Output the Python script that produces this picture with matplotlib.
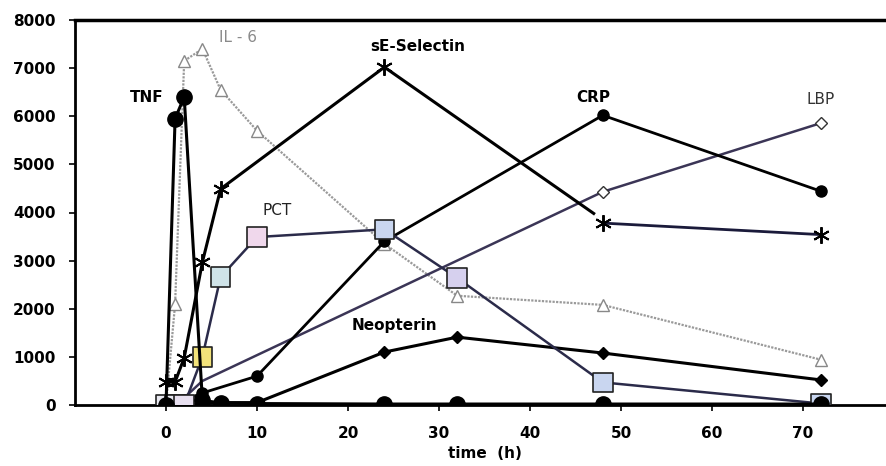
#!/usr/bin/env python3
import matplotlib.pyplot as plt

plt.rcParams['font.family'] = ['DejaVu Sans']

# time points (h) and concentrations
tnf_t = [0, 1, 2, 4, 6, 10, 24, 32, 48, 72]
tnf_v = [0, 5950, 6400, 100, 40, 30, 20, 20, 20, 20]

il6_t = [0, 1, 2, 4, 6, 10, 24, 32, 48, 72]
il6_v = [0, 2100, 7150, 7400, 6550, 5700, 3350, 2270, 2080, 940]

sel_t = [0, 1, 2, 4, 6, 24, 48, 72]
sel_v = [480, 480, 980, 2970, 4490, 7020, 3780, 3540]

crp_t = [0, 1, 2, 4, 10, 24, 48, 72]
crp_v = [0, 50, 100, 250, 600, 3400, 6020, 4440]

lbp_t = [0, 1, 2, 4, 48, 72]
lbp_v = [0, 50, 150, 500, 4430, 5860]

pct_t = [0, 1, 2, 4, 6, 10, 24, 32, 48, 72]
pct_v = [0, 0, 0, 1000, 2660, 3490, 3650, 2640, 470, 30]
pct_fill = ['#e8e8f0', '#e8e8f0', '#e8e0f0', '#f2e27a', '#cfe3e8', '#f0d8ec',
            '#c9d6f0', '#d6d0ee', '#c9d6f0', '#c9d6f0']

neo_t = [0, 1, 2, 6, 10, 24, 32, 48, 72]
neo_v = [0, 0, 0, 50, 50, 1100, 1410, 1080, 520]

fig = plt.figure(figsize=(8.87, 4.66), dpi=100)
ax = fig.add_axes([75 / 887, 61 / 466, 819 / 887, 385 / 466])

ax.plot(il6_t, il6_v, color='#9a9a9a', lw=1.6, ls=(0, (1, 0.6)),
        marker='^', ms=8, mfc='white', mec='#888888', mew=1, zorder=2)
ax.plot(lbp_t, lbp_v, color='#3b3556', lw=1.8,
        marker='D', ms=6, mfc='white', mec='#333333', mew=1, zorder=2,
        markevery=[4, 5])
ax.plot(crp_t, crp_v, color='black', lw=2, marker='o', ms=8, zorder=3)
ax.plot(neo_t, neo_v, color='black', lw=2.2, marker='D', ms=6, zorder=3)
ax.plot(sel_t[:6], sel_v[:6], color='black', lw=2.2, zorder=3)
ax.plot(sel_t[6:], sel_v[6:], color='#1a1a3a', lw=2, zorder=3)
ax.plot([sel_t[5], 47], [sel_v[5], 3980], color='black', lw=2.2, zorder=3)
ax.plot(sel_t, sel_v, ls='none', marker=(6, 2, 0), ms=12, mec='black',
        mew=1.4, zorder=4)
ax.plot(pct_t, pct_v, color='#2b2b4a', lw=1.8, zorder=3)
ax.scatter(pct_t, pct_v, marker='s', s=200, c=pct_fill, edgecolors='#222222',
           linewidths=1.2, zorder=4)
ax.plot(tnf_t, tnf_v, color='black', lw=2.2, marker='o', ms=11, zorder=5)

# series labels
ax.text(-2.1, 6380, 'TNF', ha='center', va='center', fontsize=11, fontweight='bold')
ax.text(7.9, 7630, 'IL - 6', ha='center', va='center', fontsize=11, color='#8a8a8a')
ax.text(27.7, 7440, 'sE-Selectin', ha='center', va='center', fontsize=11, fontweight='bold')
ax.text(47, 6400, 'CRP', ha='center', va='center', fontsize=11, fontweight='bold')
ax.text(71.9, 6340, 'LBP', ha='center', va='center', fontsize=11, color='#333333')
ax.text(12.2, 4050, 'PCT', ha='center', va='center', fontsize=11, color='#222222')
ax.text(25.1, 1660, 'Neopterin', ha='center', va='center', fontsize=11, fontweight='bold')

ax.set_xlim(-10, 80)
ax.set_ylim(0, 8000)
ax.set_xticks(range(0, 80, 10))
ax.set_yticks(range(0, 8001, 1000))
ax.tick_params(axis='both', direction='out', length=4, width=1.2, labelsize=11)
ax.tick_params(axis='y', pad=10)
ax.tick_params(axis='x', pad=11)
for lab in ax.get_xticklabels() + ax.get_yticklabels():
    lab.set_fontweight('bold')
ax.set_xlabel('time  (h)', fontsize=11, fontweight='bold', labelpad=4)

ax.spines['right'].set_visible(False)
ax.spines['top'].set_linewidth(2.5)
ax.spines['left'].set_linewidth(2)
ax.spines['bottom'].set_linewidth(2)

fig.savefig('out.png', dpi=100)
